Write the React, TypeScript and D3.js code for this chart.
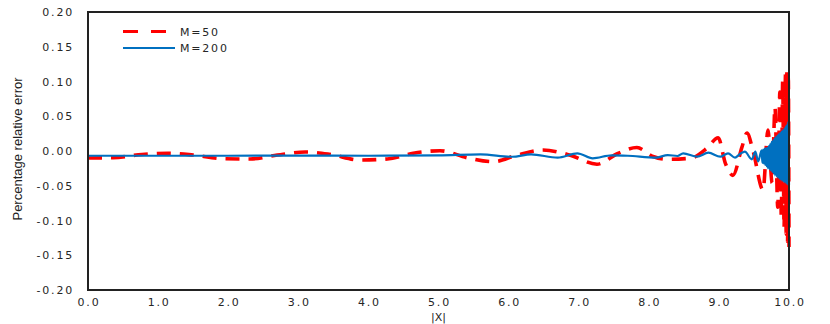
import React from 'react';
import * as d3 from 'd3';

// series: [|X|, percentage relative error]
const m50: [number, number][] = [
  [0, -0.01], [0.36, -0.0096], [0.77, -0.005], [1.14, -0.0033], [1.5, -0.0058],
  [1.93, -0.011], [2.31, -0.0115], [2.7, -0.0058], [3.1, -0.0014], [3.45, -0.0048],
  [3.88, -0.013], [4.27, -0.0115], [4.64, -0.0033], [5.02, 0.0004], [5.42, -0.01],
  [5.78, -0.0154], [6.12, -0.006], [6.49, 0.0014], [6.88, -0.006], [7.26, -0.019],
  [7.55, -0.004], [7.83, 0.005], [8.06, -0.008], [8.26, -0.012], [8.59, -0.0105],
  [8.83, 0.004], [8.99, 0.019], [9.09, -0.017], [9.2, -0.035], [9.33, 0.006],
  [9.4, 0.026], [9.49, -0.001], [9.63, -0.056], [9.7, 0.03], [9.76, -0.046],
  [9.8, 0.063], [9.84, -0.081], [9.87, 0.085], [9.89, -0.095], [9.91, 0.1],
  [9.93, -0.11], [9.95, 0.11], [9.96, -0.12], [9.97, 0.114], [9.98, -0.13],
  [9.99, 0.105], [10, -0.138],
];

const m200: [number, number][] = [
  [0, -0.0068], [1, -0.0068], [2, -0.0068], [3, -0.0066], [4, -0.0068],
  [5, -0.0062], [5.6, -0.0048], [6.05, -0.0083], [6.32, -0.0048], [6.7, -0.0096],
  [6.98, -0.0033], [7.2, -0.0105], [7.47, -0.0062], [7.7, -0.0068], [8.1, -0.0096],
  [8.27, -0.0058], [8.41, -0.0072], [8.49, -0.0033], [8.69, -0.0082], [8.85, -0.0024],
  [9.02, -0.0082], [9.13, -0.0033], [9.23, -0.0096], [9.3, -0.0043], [9.37, -0.001],
  [9.47, -0.012], [9.52, -0.001], [9.56, -0.015], [9.61, 0.001],
  [9.62, -0.017], [9.63, 0.002], [9.64, -0.018], [9.65, 0.003], [9.66, -0.02],
  [9.67, 0.004], [9.68, -0.022], [9.69, 0.005], [9.7, -0.025], [9.71, 0.007],
  [9.72, -0.026], [9.73, 0.01], [9.74, -0.028], [9.75, 0.013], [9.76, -0.03],
  [9.77, 0.015], [9.78, -0.032], [9.79, 0.018], [9.8, -0.035], [9.81, 0.02],
  [9.82, -0.036], [9.83, 0.022], [9.84, -0.038], [9.85, 0.024], [9.86, -0.04],
  [9.87, 0.026], [9.88, -0.041], [9.89, 0.028], [9.9, -0.043], [9.91, 0.03],
  [9.92, -0.044], [9.93, 0.032], [9.94, -0.045], [9.95, 0.035], [9.96, -0.047],
  [9.97, 0.038], [9.98, -0.048], [9.99, 0.043], [10, -0.049],
];

const xTicks = [0, 1, 2, 3, 4, 5, 6, 7, 8, 9, 10];
const yTicks = [0.2, 0.15, 0.1, 0.05, 0, -0.05, -0.1, -0.15, -0.2];
const legendLabels = ['M=50', 'M=200'];

const W = 830;
const H = 324;
const margin = { top: 12, right: 41, bottom: 34, left: 88 };

const tickFont = { fontFamily: 'DejaVu Sans', fontSize: 11, letterSpacing: 1.8, fill: '#262626' };

export default function App() {
  const x = d3.scaleLinear().domain([0, 10]).range([margin.left, W - margin.right]);
  const y = d3.scaleLinear().domain([-0.2, 0.2]).range([H - margin.bottom, margin.top]);

  const line = d3.line<[number, number]>()
    .x(d => x(d[0]))
    .y(d => y(d[1]))
    .curve(d3.curveMonotoneX);

  return (
    <svg width={W} height={H} style={{ position: 'absolute', left: 0, top: 0, background: '#fff' }}>
      <path d={line(m50) || ''} fill="none" stroke="#ff0000" strokeWidth={3.6}
        strokeDasharray="14 9" strokeLinecap="butt" />
      <path d={line(m200) || ''} fill="none" stroke="#0070c0" strokeWidth={2.2} />

      {/* frame */}
      <rect x={x(0)} y={y(0.2)} width={x(10) - x(0)} height={y(-0.2) - y(0.2)}
        fill="none" stroke="#222" strokeWidth={2} />

      {yTicks.map(t => (
        <text key={t} x={x(0) - 14} y={y(t) + 4} textAnchor="end" {...tickFont}>
          {t.toFixed(2)}
        </text>
      ))}
      {xTicks.map(t => (
        <text key={t} x={x(t) + 1} y={y(-0.2) + 16} textAnchor="middle" {...tickFont}>
          {t.toFixed(1)}
        </text>
      ))}

      <text x={x(5)} y={H - 3} textAnchor="middle" fontFamily="DejaVu Sans" fontSize={11} fill="#262626">
        |X|
      </text>
      <text transform={`translate(22, ${y(0) - 2}) rotate(-90)`} textAnchor="middle"
        fontFamily="Liberation Sans Narrow, Arial Narrow, sans-serif" fontSize={13} fill="#222">
        Percentage relative error
      </text>

      {/* legend */}
      <line x1={123} x2={166} y1={31.5} y2={31.5} stroke="#ff0000" strokeWidth={3.2} strokeDasharray="15 13" />
      <line x1={123} x2={175} y1={48} y2={48} stroke="#0070c0" strokeWidth={2.2} />
      {legendLabels.map((l, i) => (
        <text key={l} x={180} y={35.5 + i * 16.5} {...tickFont}>{l}</text>
      ))}
    </svg>
  );
}
